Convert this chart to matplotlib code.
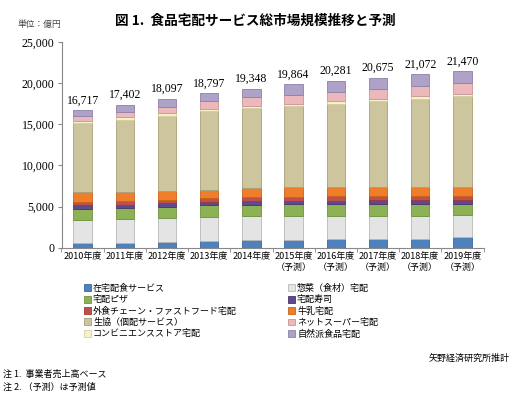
import matplotlib
matplotlib.use("Agg")
import matplotlib.pyplot as plt
from matplotlib.patches import Patch
from matplotlib.ticker import FuncFormatter

JP = ["Noto Sans CJK JP", "DejaVu Sans"]
SERIF = ["Liberation Serif", "DejaVu Serif"]

years = ["2010年度", "2011年度", "2012年度", "2013年度", "2014年度",
         "2015年度\n（予測）", "2016年度\n（予測）", "2017年度\n（予測）",
         "2018年度\n（予測）", "2019年度\n（予測）"]
totals = [16717, 17402, 18097, 18797, 19348, 19864, 20281, 20675, 21072, 21470]

# series, bottom to top (億円)
zaitaku = [520, 600, 680, 800, 920, 920, 1000, 1040, 1080, 1240]
sozai = [2890, 2930, 2970, 2930, 2900, 2900, 2900, 2860, 2820, 2700]
pizza = [1330, 1290, 1290, 1410, 1400, 1440, 1360, 1440, 1440, 1400]
sushi = [420, 430, 440, 420, 450, 460, 460, 450, 450, 460]
gaishoku = [430, 440, 450, 440, 480, 500, 510, 500, 510, 540]
milk = [1160, 1140, 1120, 1070, 1120, 1130, 1120, 1060, 1050, 1090]
coop = [8430, 8750, 9110, 9520, 9720, 9840, 10120, 10440, 10760, 10960]
cvs = [250, 260, 270, 280, 290, 300, 300, 310, 310, 320]
netsuper = [550, 650, 750, 900, 1000, 1100, 1150, 1200, 1250, 1300]
shizen = [737, 912, 1017, 1027, 1068, 1274, 1361, 1375, 1402, 1460]

series = [zaitaku, sozai, pizza, sushi, gaishoku, milk, coop, cvs, netsuper, shizen]
labels = ["在宅配食サービス", "惣菜（食材）宅配", "宅配ピザ", "宅配寿司",
          "外食チェーン・ファストフード宅配", "牛乳宅配", "生協（個配サービス）",
          "コンビニエンスストア宅配", "ネットスーパー宅配", "自然派食品宅配"]
colors = ["#4F81BD", "#E4E4E4", "#8DB255", "#5E4A8C", "#C0504D",
          "#EE7E2A", "#CCC59D", "#F8F0C6", "#EBB8BC", "#AFA2C8"]
edges = ["#3A679E", "#B8B8B8", "#6E9340", "#46366C", "#9A3A38",
         "#C9641B", "#A8A07A", "#D8CFA0", "#C99499", "#8E80A8"]

fig = plt.figure(figsize=(5.16, 3.99), dpi=100)
ax = fig.add_axes([61.5 / 516, 151.3 / 399, 422 / 516, 205.7 / 399])

x = list(range(len(years)))
bottom = [0] * len(years)
for vals, c, ec in zip(series, colors, edges):
    ax.bar(x, vals, 0.44, bottom=bottom, color=c, edgecolor=ec, linewidth=0.6)
    bottom = [b + v for b, v in zip(bottom, vals)]

for xi, t in zip(x, totals):
    ax.text(xi, t + 450, f"{t:,}", ha="center", va="bottom",
            fontsize=8.5, family=SERIF)

ax.set_xlim(-0.5, len(years) - 0.5)
ax.set_ylim(0, 25000)
ax.set_yticks(range(0, 25001, 5000))
ax.yaxis.set_major_formatter(FuncFormatter(lambda v, p: f"{int(v):,}"))
ax.set_xticks([i - 0.5 for i in range(len(years) + 1)], minor=True)
ax.set_xticks(x)
ax.set_xticklabels(years, fontsize=6.5, family=JP, linespacing=1.3)
ax.tick_params(axis="x", which="major", length=0, pad=3)
ax.tick_params(axis="x", which="minor", length=3, color="#888888")
ax.tick_params(axis="y", length=3, color="#888888", labelsize=8.5, pad=2)
for lab in ax.get_yticklabels():
    lab.set_family(SERIF)
for s in ["top", "right"]:
    ax.spines[s].set_visible(False)
for s in ["left", "bottom"]:
    ax.spines[s].set_color("#888888")
    ax.spines[s].set_linewidth(0.8)

fig.text(255 / 516, 1 - 21 / 399, "図 1.  食品宅配サービス総市場規模推移と予測",
         ha="center", va="center", fontsize=9.8, fontweight="bold", family=JP)
fig.text(17 / 516, 1 - 24 / 399, "単位：億円", ha="left", va="center",
         fontsize=6.3, family=JP, color="#444444")

# legend is row-major in two columns: split into a left and a right column
handles = [Patch(facecolor=colors[i], edgecolor=edges[i], linewidth=0.6) for i in range(10)]
leg_left = [0, 2, 4, 6, 7]
leg_right = [1, 3, 5, 8, 9]
for idx, xpos in [(leg_left, 84 / 516), (leg_right, 288 / 516)]:
    fig.legend([handles[i] for i in idx], [labels[i] for i in idx], loc="upper left",
               bbox_to_anchor=(xpos, 1 - 284 / 399), frameon=False,
               prop={"family": JP, "size": 6.5}, handlelength=0.8,
               handleheight=0.8, handletextpad=0.2, labelspacing=0.25,
               borderpad=0, borderaxespad=0)

fig.text(510 / 516, 1 - 358 / 399, "矢野経済研究所推計", ha="right", va="center",
         fontsize=6.5, family=JP)
fig.text(3 / 516, 1 - 374 / 399, "注 1.  事業者売上高ベース", ha="left", va="center",
         fontsize=6.5, family=JP)
fig.text(3 / 516, 1 - 387 / 399, "注 2. （予測）は予測値", ha="left", va="center",
         fontsize=6.5, family=JP)

fig.savefig("out.png", dpi=100)
